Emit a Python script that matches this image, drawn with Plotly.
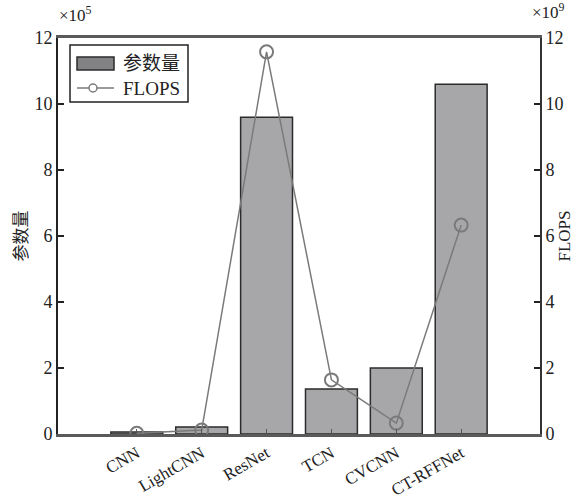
import plotly.graph_objects as go

models = ["CNN", "LightCNN", "ResNet", "TCN", "CVCNN", "CT-RFFNet"]
params_e5 = [0.06, 0.21, 9.6, 1.36, 2.0, 10.6]
flops_e9 = [0.02, 0.12, 11.58, 1.64, 0.33, 6.33]
yticks = [0, 2, 4, 6, 8, 10, 12]

xs = list(range(len(models)))
serif = "Liberation Serif, Times New Roman, serif"
cjk = "Liberation Serif, Noto Sans CJK SC, serif"

L, R, T, B = 58, 540, 38, 434
W, H = 574, 499
PW, PH = R - L, B - T

def px(x):
    return (x - L) / PW

def py(y):
    return (B - y) / PH

bar_fill = "#a7a7aa"
bar_edge = "#2b2b2b"
line_col = "#7a7a7a"

fig = go.Figure()
fig.add_trace(go.Bar(
    x=xs, y=params_e5, name="参数量", width=0.8,
    marker=dict(color=bar_fill, line=dict(color=bar_edge, width=1.5)),
    yaxis="y", showlegend=False,
))
fig.add_trace(go.Scatter(
    x=xs, y=flops_e9, name="FLOPS", mode="lines+markers",
    line=dict(color=line_col, width=1.5),
    marker=dict(symbol="circle-open", size=13, color=line_col, line=dict(width=2)),
    yaxis="y2", showlegend=False,
))

shapes = [
    dict(type="rect", xref="paper", yref="paper", x0=px(70), x1=px(188), y0=py(102), y1=py(45),
         line=dict(color="#222", width=1.5), fillcolor="white", layer="above"),
    dict(type="rect", xref="paper", yref="paper", x0=px(77), x1=px(114), y0=py(70), y1=py(57),
         line=dict(color=bar_edge, width=1.5), fillcolor="#828285", layer="above"),
    dict(type="line", xref="paper", yref="paper", x0=px(77), x1=px(114), y0=py(88), y1=py(88),
         line=dict(color=line_col, width=1.5), layer="above"),
    dict(type="circle", xref="paper", yref="paper", x0=px(89), x1=px(97), y0=py(92), y1=py(84),
         line=dict(color=line_col, width=1.5), fillcolor="white", layer="above"),
]

annotations = [
    dict(text="参数量", x=px(121), y=py(63), xref="paper", yref="paper",
         xanchor="left", yanchor="middle", showarrow=False,
         font=dict(family=cjk, size=19, color="#222")),
    dict(text="FLOPS", x=px(121), y=py(88), xref="paper", yref="paper",
         xanchor="left", yanchor="middle", showarrow=False,
         font=dict(family=serif, size=19, color="#222")),
    dict(text="×10<sup>5</sup>", x=px(57), y=py(27), xref="paper", yref="paper",
         xanchor="left", yanchor="bottom", showarrow=False,
         font=dict(family=serif, size=17, color="#222")),
    dict(text="×10<sup>9</sup>", x=px(567), y=py(24), xref="paper", yref="paper",
         xanchor="right", yanchor="bottom", showarrow=False,
         font=dict(family=serif, size=17, color="#222")),
]

fig.update_layout(
    width=W, height=H,
    margin=dict(l=L, r=W - R, t=T, b=H - B),
    paper_bgcolor="white", plot_bgcolor="white",
    font=dict(family=serif, size=18, color="#222"),
    showlegend=False,
    xaxis=dict(
        range=[-1.215, 6.215], tickmode="array", tickvals=xs, ticktext=models,
        tickangle=-30, ticks="inside", ticklen=5, tickcolor="#555",
        showline=True, linecolor="#5a5a5a", linewidth=2.5, mirror=True,
        showgrid=False, zeroline=False, tickfont=dict(size=17), automargin=False,
    ),
    yaxis=dict(
        range=[0, 12], tickvals=yticks, ticks="inside", ticklen=6,
        tickcolor="#222", tickwidth=1.5, automargin=False,
        showline=True, linecolor="#222", linewidth=2, showgrid=False, zeroline=False,
        title=dict(text="参数量", font=dict(family=cjk, size=17), standoff=2),
    ),
    yaxis2=dict(
        range=[0, 12], tickvals=yticks, ticks="inside", ticklen=6,
        tickcolor="#222", tickwidth=1.5, automargin=False,
        overlaying="y", side="right", anchor="x",
        showline=True, linecolor="#333", linewidth=2, showgrid=False, zeroline=False,
        title=dict(text="FLOPS", font=dict(size=17), standoff=0),
    ),
    shapes=shapes,
    annotations=annotations,
)

fig.write_html("out.html")
